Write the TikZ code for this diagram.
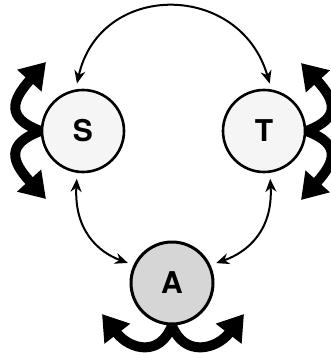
\documentclass[tikz,border=0pt]{standalone}
\usepackage{fontspec}
\setsansfont{TeX Gyre Heros}
\usetikzlibrary{arrows.meta}
\begin{document}
\begin{tikzpicture}[x=1pt,y=-1pt,
  state/.style={circle,draw=black,line width=2.6pt,minimum size=82pt,inner sep=0pt,
    font=\sffamily\bfseries\fontsize{30}{30}\selectfont},
  link/.style={line width=2pt,shorten <=6pt,shorten >=6pt,
    {Stealth[length=13pt,width=11pt]}-{Stealth[length=13pt,width=11pt]}},
  fat/.style={line width=10pt,-{Triangle[length=25pt,width=31pt]}}]
\useasboundingbox (0,0) rectangle (330,353);
\node[state,fill=gray!8] (S) at (83,131) {S};
\node[state,fill=gray!8] (T) at (264,131) {T};
\node[state,fill=gray!32,line width=3pt] (A) at (172,283) {A};
% top arc
\draw[link] (S.100) .. controls (100,-19) and (240,-19) .. (T.80);
% side links
\draw[link] (S.262) .. controls (74,230) and (98,252) .. (A.155);
\draw[link] (T.278) .. controls (273,230) and (248,252) .. (A.25);
% fat self arrows S
\coordinate (s1) at (46,62);
\coordinate (s2) at (46,199);
\draw[fat] (S.west) .. controls (5,118) and (12,100) .. (s1);
\draw[fat] (S.west) .. controls (5,144) and (12,162) .. (s2);
% fat self arrows T
\coordinate (t1) at (301,63);
\coordinate (t2) at (301,200);
\draw[fat] (T.east) .. controls (342,118) and (335,100) .. (t1);
\draw[fat] (T.east) .. controls (342,144) and (335,162) .. (t2);
% fat self arrows A
\coordinate (a1) at (102,314);
\coordinate (a2) at (244,314);
\draw[fat] (A.south) .. controls (160,357) and (130,350) .. (a1);
\draw[fat] (A.south) .. controls (184,357) and (216,350) .. (a2);
\end{tikzpicture}
\end{document}
